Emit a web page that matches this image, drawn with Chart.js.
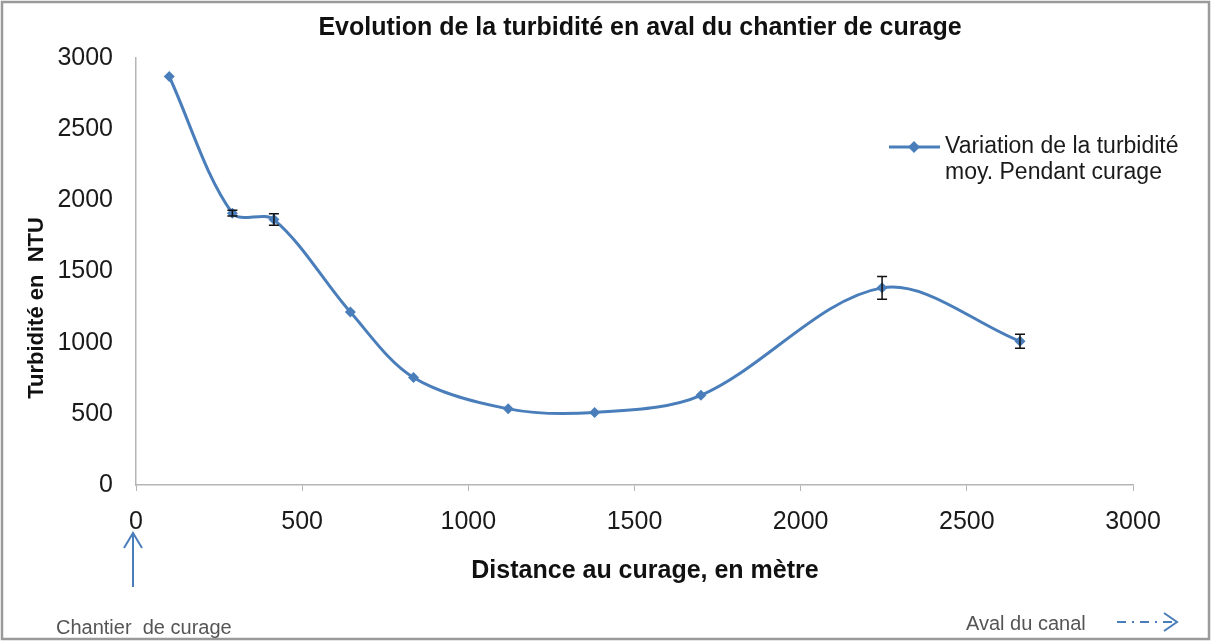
<!DOCTYPE html>
<html>
<head>
<meta charset="utf-8">
<script src="https://cdn.jsdelivr.net/npm/chart.js@4"></script>
<style>
  html, body { margin: 0; padding: 0; background: #fff; }
  #wrap { width: 1211px; height: 641px; }
</style>
</head>
<body>
<div id="wrap"><canvas id="chart" width="1211" height="641"></canvas></div>
<script>
const distances = [100, 290, 415, 645, 835, 1120, 1380, 1700, 2245, 2660];
const turbidity = [2870, 1910, 1865, 1215, 755, 535, 510, 630, 1385, 1010];
const errors = [0, 20, 40, 0, 0, 0, 0, 0, 80, 50];
const xTicks = [0, 500, 1000, 1500, 2000, 2500, 3000];
const yTicks = [0, 500, 1000, 1500, 2000, 2500, 3000];

const BLUE = "#4a7ebb";
const FONT = "'Liberation Sans', Arial, sans-serif";

// error bars drawn on top of the series, through the scales
const errorBars = {
  id: "errorBars",
  afterDatasetsDraw(chart) {
    const { ctx, scales: { x, y } } = chart;
    ctx.save();
    ctx.strokeStyle = "#111";
    ctx.lineWidth = 1.5;
    distances.forEach((d, i) => {
      if (!errors[i]) return;
      const px = x.getPixelForValue(d);
      const top = y.getPixelForValue(turbidity[i] + errors[i]);
      const bot = y.getPixelForValue(turbidity[i] - errors[i]);
      ctx.beginPath();
      ctx.moveTo(px, top); ctx.lineTo(px, bot);
      ctx.moveTo(px - 5, top); ctx.lineTo(px + 5, top);
      ctx.moveTo(px - 5, bot); ctx.lineTo(px + 5, bot);
      ctx.stroke();
    });
    ctx.restore();
  }
};

// titles, legend, frame and the two annotations under the axis
const decorations = {
  id: "decorations",
  afterDraw(chart) {
    const { ctx } = chart;
    ctx.save();
    ctx.strokeStyle = "#9a9a9a";
    ctx.lineWidth = 2.5;
    ctx.strokeRect(2, 2, 1207, 637);

    ctx.fillStyle = "#111";
    ctx.textBaseline = "middle";
    ctx.textAlign = "center";
    ctx.font = "bold 25px " + FONT;
    ctx.fillText("Evolution de la turbidité en aval du chantier de curage", 640, 28);
    ctx.fillText("Distance au curage, en mètre", 645, 571);
    ctx.save();
    ctx.translate(37, 308);
    ctx.rotate(-Math.PI / 2);
    ctx.font = "bold 22px " + FONT;
    ctx.fillText("Turbidité en  NTU", 0, 0);
    ctx.restore();
    ctx.textAlign = "left";

    // legend
    ctx.strokeStyle = BLUE;
    ctx.lineWidth = 3;
    ctx.beginPath(); ctx.moveTo(889, 147); ctx.lineTo(940, 147); ctx.stroke();
    ctx.fillStyle = BLUE;
    ctx.beginPath();
    ctx.moveTo(914, 141); ctx.lineTo(920, 147); ctx.lineTo(914, 153); ctx.lineTo(908, 147);
    ctx.closePath(); ctx.fill();
    ctx.fillStyle = "#1a1a1a";
    ctx.font = "23px " + FONT;
    ctx.fillText("Variation de la turbidité", 945, 147);
    ctx.fillText("moy. Pendant curage", 945, 173);

    // upward arrow at distance 0
    const x0 = chart.scales.x.getPixelForValue(0) - 3;
    ctx.strokeStyle = BLUE;
    ctx.lineWidth = 2;
    ctx.beginPath();
    ctx.moveTo(x0, 587); ctx.lineTo(x0, 533);
    ctx.moveTo(x0 - 9, 548); ctx.lineTo(x0, 533); ctx.lineTo(x0 + 9, 548);
    ctx.stroke();

    ctx.fillStyle = "#555";
    ctx.font = "20px " + FONT;
    ctx.fillText("Chantier  de curage", 56, 628);
    ctx.fillText("Aval du canal", 966, 624);

    // dash-dot arrow towards downstream
    ctx.setLineDash([9, 6, 2, 6]);
    ctx.beginPath(); ctx.moveTo(1117, 622); ctx.lineTo(1176, 622); ctx.stroke();
    ctx.setLineDash([]);
    ctx.beginPath();
    ctx.moveTo(1164, 613); ctx.lineTo(1177, 622); ctx.lineTo(1164, 631);
    ctx.stroke();
    ctx.restore();
  }
};

new Chart(document.getElementById("chart"), {
  type: "line",
  data: {
    datasets: [{
      label: "Variation de la turbidité moy. Pendant curage",
      data: distances.map((d, i) => ({ x: d, y: turbidity[i] })),
      borderColor: BLUE,
      backgroundColor: BLUE,
      borderWidth: 3,
      tension: 0.33,
      pointStyle: "rectRot",
      pointRadius: 5.5,
      pointBorderWidth: 0,
      fill: false,
    }],
  },
  options: {
    responsive: false,
    animation: false,
    layout: { padding: { left: 0, right: 78, top: 58, bottom: 56 } },
    plugins: {
      legend: { display: false },
      tooltip: { enabled: false },
    },
    scales: {
      x: {
        type: "linear",
        min: 0,
        max: 3000,
        afterBuildTicks: (s) => { s.ticks = xTicks.map((v) => ({ value: v })); },
        afterFit: (s) => { s.height = 100; s.paddingLeft = 0; s.paddingRight = 0; },
        border: { color: "#b5b5b5", width: 1.5 },
        grid: { drawOnChartArea: false, tickLength: 6, color: "#b5b5b5" },
        ticks: { color: "#1a1a1a", padding: 16, maxRotation: 0, font: { family: FONT, size: 25 }, callback: (v) => String(v) },
      },
      y: {
        min: 0,
        max: 3000,
        afterBuildTicks: (s) => { s.ticks = yTicks.map((v) => ({ value: v })); },
        afterFit: (s) => { s.width = 136; s.paddingTop = 0; s.paddingBottom = 0; },
        border: { color: "#b5b5b5", width: 1.5 },
        grid: { display: false },
        ticks: { color: "#1a1a1a", padding: 15, font: { family: FONT, size: 25 }, callback: (v) => String(v) },
      },
    },
  },
  plugins: [errorBars, decorations],
});
</script>
</body>
</html>
